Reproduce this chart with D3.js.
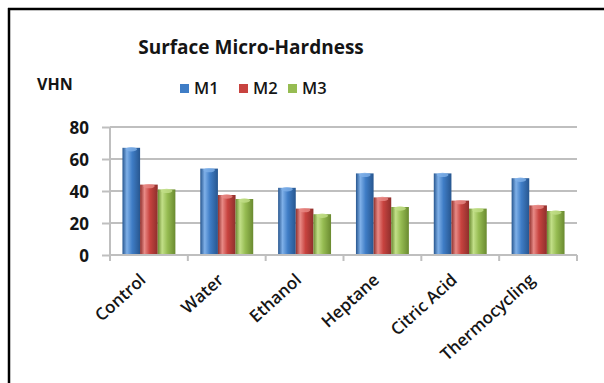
<!DOCTYPE html>
<html><head><meta charset="utf-8">
<script src="https://cdn.jsdelivr.net/npm/d3@7"></script>
<style>body{margin:0;background:#fff;}svg{display:block;}</style>
</head><body>
<svg id="c" width="604" height="383"></svg>
<script>
const categories = ["Control","Water","Ethanol","Heptane","Citric Acid","Thermocycling"];
const seriesNames = ["M1","M2","M3"];
const m1 = [67, 54, 42, 51, 51, 48];
const m2 = [44, 37.5, 29, 36, 34, 31];
const m3 = [41, 35, 25.5, 30, 29, 27.5];
const yTicks = [0, 20, 40, 60, 80];
const title = "Surface Micro-Hardness";
const yLabel = "VHN";

const seriesValues = [m1, m2, m3];
const colors = ["#3F7DC6", "#C8433F", "#96BC52"];
const darks = ["#27568f", "#8e2f2c", "#6a8a30"];
const lights = ["#7fb0e8", "#e88a86", "#c2df88"];

const svg = d3.select("#c");
const font = "'Open Sans', sans-serif";
const txt = "#151515";

// frame
svg.append("line").attr("x1", 8).attr("x2", 604).attr("y1", 9).attr("y2", 9).attr("stroke", "#000").attr("stroke-width", 2.5);
svg.append("line").attr("x1", 9).attr("x2", 9).attr("y1", 8).attr("y2", 383).attr("stroke", "#000").attr("stroke-width", 2.5);

const defs = svg.append("defs");
colors.forEach((c, i) => {
  const g = defs.append("linearGradient").attr("id", "g" + i).attr("x1", 0).attr("x2", 1).attr("y1", 0).attr("y2", 0);
  g.append("stop").attr("offset", "0%").attr("stop-color", darks[i]);
  g.append("stop").attr("offset", "25%").attr("stop-color", lights[i]);
  g.append("stop").attr("offset", "55%").attr("stop-color", c);
  g.append("stop").attr("offset", "100%").attr("stop-color", darks[i]);
});

const x0 = d3.scaleBand().domain(categories).range([110, 577]).padding(0);
const groupW = x0.bandwidth() * 0.68;
const x1 = d3.scaleBand().domain(seriesNames)
  .range([(x0.bandwidth() - groupW) / 2, (x0.bandwidth() + groupW) / 2]).padding(0);
const y = d3.scaleLinear().domain([0, 80]).range([255, 127]);

// gridlines
svg.append("g").selectAll("line").data(yTicks.filter(d => d > 0)).join("line")
  .attr("x1", 110).attr("x2", 577).attr("y1", d => y(d)).attr("y2", d => y(d))
  .attr("stroke", "#bfbfbf").attr("stroke-width", 2);

// bars
const groups = svg.append("g").selectAll("g").data(categories).join("g")
  .attr("transform", d => `translate(${x0(d)},0)`);
groups.each(function(cat, ci) {
  const g = d3.select(this);
  seriesNames.forEach((s, si) => {
    const v = seriesValues[si][ci];
    g.append("rect").attr("x", x1(s)).attr("y", y(v))
      .attr("width", x1.bandwidth()).attr("height", y(0) - y(v))
      .attr("fill", `url(#g${si})`);
    g.append("ellipse").attr("cx", x1(s) + x1.bandwidth() / 2).attr("cy", y(v) + 1.5)
      .attr("rx", x1.bandwidth() / 2 - 3).attr("ry", 2.2).attr("fill", lights[si]).attr("opacity", 0.8);
  });
});

// y axis
const yAxis = d3.axisLeft(y).tickValues(yTicks).tickSize(8).tickPadding(13);
const ya = svg.append("g").attr("transform", "translate(110,0)").call(yAxis);
ya.select(".domain").attr("stroke", "#bfbfbf").attr("stroke-width", 2).attr("d", "M0,127V258");
ya.selectAll(".tick line").attr("stroke", "#bfbfbf").attr("stroke-width", 2);
ya.selectAll(".tick text").attr("font-family", font).attr("font-size", 17).attr("font-weight", "bold").attr("fill", txt).attr("dy", "0.4em");

// x axis
const xa = svg.append("g").attr("transform", "translate(0,255)");
xa.append("line").attr("x1", 110).attr("x2", 577).attr("stroke", "#bfbfbf").attr("stroke-width", 2);
const xTickPos = categories.map(c => x0(c)).concat([577]);
xa.selectAll("line.t").data(xTickPos).join("line").attr("class", "t")
  .attr("x1", d => d).attr("x2", d => d).attr("y1", 0).attr("y2", 6)
  .attr("stroke", "#bfbfbf").attr("stroke-width", 2);
xa.selectAll("text").data(categories).join("text")
  .attr("transform", d => `translate(${x0(d) + x0.bandwidth() / 2 - 6},${22}) rotate(-42)`)
  .attr("text-anchor", "end").attr("dy", "0.35em")
  .attr("font-family", font).attr("font-size", 17).attr("font-weight", 600).attr("fill", txt)
  .text(d => d);

// title
svg.append("text").attr("x", 251).attr("y", 54).attr("text-anchor", "middle")
  .attr("font-family", font).attr("font-size", 19).attr("font-weight", "bold").attr("fill", txt).text(title);
svg.append("text").attr("x", 37).attr("y", 90)
  .attr("font-family", font).attr("font-size", 16).attr("font-weight", "bold").attr("fill", txt).text(yLabel);

// legend
const legX = [180, 239, 288];
const leg = svg.append("g").selectAll("g").data(seriesNames).join("g")
  .attr("transform", (d, i) => `translate(${legX[i]},0)`);
leg.append("rect").attr("x", 0).attr("y", 84).attr("width", 9).attr("height", 9)
  .attr("fill", (d, i) => colors[i]);
leg.append("text").attr("x", 14).attr("y", 93.5)
  .attr("font-family", font).attr("font-size", 16.5).attr("font-weight", 600).attr("fill", txt).text(d => d);
</script>
</body></html>
